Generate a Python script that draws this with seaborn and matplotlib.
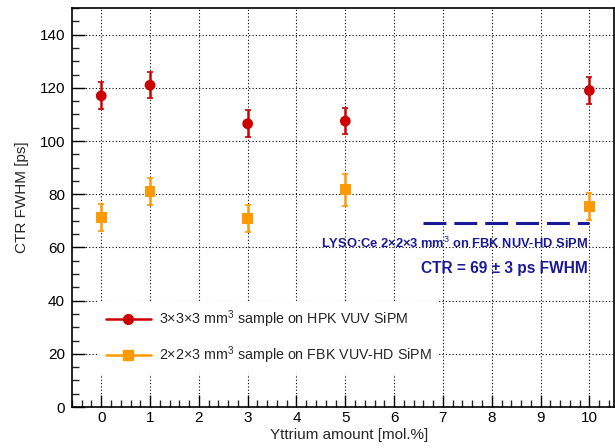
import matplotlib
matplotlib.use("Agg")
import matplotlib.pyplot as plt
from matplotlib.lines import Line2D
from matplotlib.ticker import MultipleLocator
import seaborn as sns
import pandas as pd

# Data
yttrium = [0, 1, 3, 5, 10]
ctr_hpk = [117.0, 121.0, 106.5, 107.5, 119.0]
err_hpk = [5.1, 5.0, 5.0, 5.0, 5.0]
ctr_fbk = [71.2, 81.0, 70.9, 81.7, 75.4]
err_fbk = [5.0, 5.0, 5.0, 6.0, 5.0]
ref_ctr = 69
ref_x = [6.6, 10.0]

label_hpk = "3×3×3 mm$^{3}$ sample on HPK VUV SiPM"
label_fbk = "2×2×3 mm$^{3}$ sample on FBK VUV-HD SiPM"

sns.set_theme(style="ticks")
plt.rcParams['font.family'] = ['Liberation Sans', 'DejaVu Sans']
plt.rcParams['mathtext.fontset'] = 'custom'
plt.rcParams['mathtext.rm'] = 'Liberation Sans'
plt.rcParams['mathtext.it'] = 'Liberation Sans:italic'
plt.rcParams['mathtext.bf'] = 'Liberation Sans:bold'

red = "#cc0000"
orange = "#ff9900"
blue = "#1a1a99"

df = pd.DataFrame({
    "x": yttrium * 2,
    "y": ctr_hpk + ctr_fbk,
    "err": err_hpk + err_fbk,
    "series": ["hpk"] * len(yttrium) + ["fbk"] * len(yttrium),
})

fig = plt.figure(figsize=(6.15, 4.48), dpi=100)
ax = fig.add_axes([0.117, 0.0915, 0.881, 0.8905])

# error bars
ax.errorbar(yttrium, ctr_hpk, yerr=err_hpk, fmt='none', ecolor=red, elinewidth=1.8, capsize=2.5, capthick=1.2, zorder=3)
ax.errorbar(yttrium, ctr_fbk, yerr=err_fbk, fmt='none', ecolor=orange, elinewidth=1.8, capsize=2.5, capthick=1.2, zorder=3)

sns.scatterplot(data=df, x="x", y="y", hue="series", style="series",
                palette={"hpk": red, "fbk": orange},
                markers={"hpk": "o", "fbk": "s"}, s=60, edgecolor="none",
                legend=False, ax=ax, zorder=4)

# reference line
ax.plot(ref_x, [ref_ctr, ref_ctr], color=blue, lw=2.2, dashes=(7.5, 2.6), zorder=3)
ax.text(9.98, 61.6, "LYSO:Ce 2×2×3 mm$^{3}$ on FBK NUV-HD SiPM", color=blue,
        fontsize=9.3, fontweight='bold', ha='right', va='center')
ax.text(9.96, 52.2, "CTR = 69 ± 3 ps FWHM", color=blue,
        fontsize=11.2, fontweight='bold', ha='right', va='center')

ax.set_xlim(-0.6, 10.5)
ax.set_ylim(0, 150)
ax.xaxis.set_major_locator(MultipleLocator(1))
ax.xaxis.set_minor_locator(MultipleLocator(0.2))
ax.yaxis.set_major_locator(MultipleLocator(20))
ax.yaxis.set_minor_locator(MultipleLocator(5))
ax.tick_params(axis='both', which='major', direction='in', length=9, width=1, labelsize=11, colors='black', pad=5)
ax.tick_params(axis='x', which='major', pad=3)
ax.tick_params(axis='both', which='minor', direction='in', length=5, width=1)
ax.tick_params(top=False, right=False, which='both')

ax.grid(True, which='major', color='black', linestyle=(0, (1, 2)), linewidth=0.8)
for s in ax.spines.values():
    s.set_color('black')
    s.set_linewidth(1.2)

ax.set_xlabel("Yttrium amount [mol.%]", fontsize=11)
ax.set_ylabel("CTR FWHM [ps]", fontsize=11)
ax.xaxis.set_label_coords(0.511, -0.052)
ax.yaxis.set_label_coords(-0.079, 0.526)

handles = [
    Line2D([0], [0], color=red, lw=1.8, marker='o', markersize=7, label=label_hpk),
    Line2D([0], [0], color=orange, lw=1.8, marker='s', markersize=7, label=label_fbk),
]
leg = ax.legend(handles=handles, loc='upper left', bbox_to_anchor=(0.05, 0.265),
                borderaxespad=0, frameon=True, facecolor='white', edgecolor='none',
                framealpha=1, fancybox=False, fontsize=10.3, handlelength=3.1,
                handletextpad=0.56, labelspacing=1.03, borderpad=0.5)
leg.set_zorder(5)

fig.savefig("out.png", dpi=100)
